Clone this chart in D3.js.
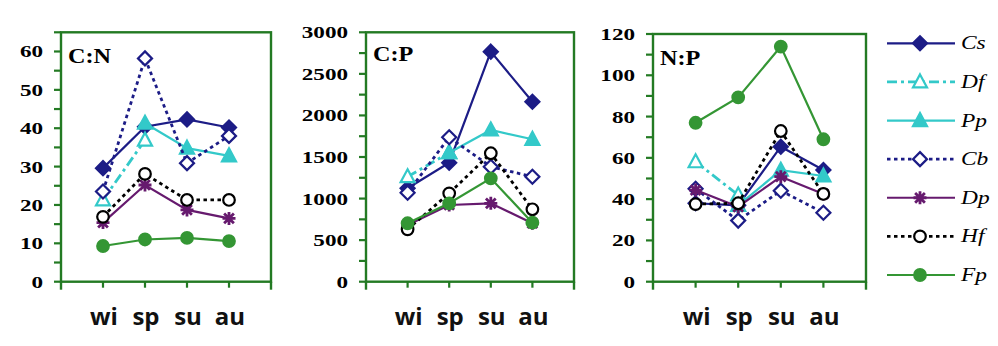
<!DOCTYPE html>
<html>
<head>
<meta charset="utf-8">
<script src="https://cdn.jsdelivr.net/npm/d3@7"></script>
<style>
  body { margin: 0; background: #fff; }
  svg { display: block; }
</style>
</head>
<body>
<div id="chart"></div>
<script>
'use strict'

// categories
const seasons = ['wi', 'sp', 'su', 'au']
const species = ['Cs', 'Df', 'Pp', 'Cb', 'Dp', 'Hf', 'Fp']

// values, one row per species (same order as species), null = no sample
const ratioCN = [
  [29.6, 40.4, 42.3, 40.2],
  [21.3, 36.9, null, null],
  [null, 41.3, 34.8, 32.8],
  [23.5, 58.2, 30.9, 38.0],
  [15.4, 25.2, 18.7, 16.5],
  [16.9, 28.1, 21.3, 21.3],
  [9.3, 11.0, 11.4, 10.6]
]
const ratioCP = [
  [1124, 1431, 2767, 2165],
  [1263, 1552, null, null],
  [null, 1552, 1825, 1713],
  [1071, 1737, 1383, 1263],
  [682, 923, 943, 703],
  [630, 1063, 1545, 871],
  [703, 943, 1244, 710]
]
const ratioNP = [
  [38.0, 37.0, 65.4, 54.1],
  [58.1, 42.0, null, null],
  [null, 37.0, 54.0, 51.2],
  [45.0, 29.6, 44.1, 33.4],
  [44.4, 36.3, 50.9, 42.5],
  [37.6, 38.0, 73.0, 42.5],
  [77.0, 89.3, 113.9, 69.0]
]

// tick labels
const ticksCN = [0, 10, 20, 30, 40, 50, 60]
const ticksCP = [0, 500, 1000, 1500, 2000, 2500, 3000]
const ticksNP = [0, 20, 40, 60, 80, 100, 120]

// Our canvas
const width = 998,
  height = 346,
  bottom = 281.7,
  frameGreen = '#237a23'

const navy = '#1c1c86',
  cyan = '#33c9c9',
  purple = '#661a6e',
  green = '#349634'

// how each series looks
const styles = {
  Cs: { color: navy, dash: null, w: 2.2, marker: 'diamond', fill: navy },
  Df: { color: cyan, dash: '10,4,3,4', w: 2.8, marker: 'triangle', fill: '#fff' },
  Pp: { color: cyan, dash: null, w: 2.2, marker: 'triangle', fill: cyan },
  Cb: { color: navy, dash: '3.5,3.5', w: 2.8, marker: 'diamond', fill: '#fff' },
  Dp: { color: purple, dash: null, w: 2.2, marker: 'star', fill: purple },
  Hf: { color: '#000', dash: '3.5,3.5', w: 2.8, marker: 'circle', fill: '#fff' },
  Fp: { color: green, dash: null, w: 2.2, marker: 'circle', fill: green }
}

const panels = [
  { title: 'C:N', data: ratioCN, ticks: ticksCN, minor: 5, max: 65, left: 61, right: 271, top: 32.3, titleY: 63 },
  { title: 'C:P', data: ratioCP, ticks: ticksCP, minor: 250, max: 3000, left: 366, right: 574, top: 32.3, titleY: 61 },
  { title: 'N:P', data: ratioNP, ticks: ticksNP, minor: 10, max: 120, left: 653, right: 866, top: 34, titleY: 65 }
]

let svg = d3.select('#chart')
  .append('svg')
  .attr('width', width)
  .attr('height', height)

// marker drawing
let drawMarker = (g, type, x, y, st) => {
  if (type === 'diamond') {
    g.append('path')
      .attr('d', `M${x},${y - 7}L${x + 7},${y}L${x},${y + 7}L${x - 7},${y}Z`)
      .attr('fill', st.fill).attr('stroke', st.color).attr('stroke-width', 2.2)
  } else if (type === 'triangle') {
    g.append('path')
      .attr('d', `M${x},${y - 7.5}L${x + 7},${y + 5.5}L${x - 7},${y + 5.5}Z`)
      .attr('fill', st.fill).attr('stroke', st.color).attr('stroke-width', 2.2)
  } else if (type === 'circle') {
    g.append('circle')
      .attr('cx', x).attr('cy', y).attr('r', 5.8)
      .attr('fill', st.fill).attr('stroke', st.color).attr('stroke-width', 2.2)
  } else if (type === 'star') {
    let r = 6.5
    let d = `M${x - r},${y}L${x + r},${y}M${x},${y - r}L${x},${y + r}` +
      `M${x - r * 0.75},${y - r * 0.75}L${x + r * 0.75},${y + r * 0.75}` +
      `M${x - r * 0.75},${y + r * 0.75}L${x + r * 0.75},${y - r * 0.75}`
    g.append('path').attr('d', d)
      .attr('stroke', st.color).attr('stroke-width', 2.8).attr('fill', 'none')
  }
}

// stretched serif text like the original
let stretchText = (g, x, y, txt, size, sx, anchor, style) => {
  return g.append('text')
    .attr('transform', `translate(${x},${y}) scale(${sx},1)`)
    .attr('text-anchor', anchor)
    .attr('font-family', 'Liberation Serif, Times New Roman, serif')
    .attr('font-size', size)
    .attr('font-weight', style === 'italic' ? 'normal' : 'bold')
    .attr('font-style', style === 'italic' ? 'italic' : 'normal')
    .attr('fill', '#000')
    .text(txt)
}

panels.forEach((p) => {
  const g = svg.append('g')

  const xScale = d3.scalePoint()
    .domain(seasons)
    .range([p.left, p.right])
    .padding(1)

  const yScale = d3.scaleLinear()
    .domain([0, p.max])
    .range([bottom, p.top])

  // frame
  g.append('rect')
    .attr('x', p.left).attr('y', p.top)
    .attr('width', p.right - p.left).attr('height', bottom - p.top)
    .attr('fill', 'none').attr('stroke', frameGreen).attr('stroke-width', 2.4)

  // side lines run a bit below the x axis
  ;[p.left, p.right].forEach((x) => {
    g.append('line')
      .attr('x1', x).attr('x2', x).attr('y1', bottom).attr('y2', bottom + 8)
      .attr('stroke', frameGreen).attr('stroke-width', 2.4)
  })

  // x ticks + labels
  seasons.forEach((s) => {
    g.append('line')
      .attr('x1', xScale(s)).attr('x2', xScale(s))
      .attr('y1', bottom).attr('y2', bottom + 6)
      .attr('stroke', frameGreen).attr('stroke-width', 2.2)
    g.append('text')
      .attr('x', xScale(s) + 1).attr('y', 325)
      .attr('text-anchor', 'middle')
      .attr('font-family', 'Open Sans, sans-serif')
      .attr('font-weight', 'bold')
      .attr('font-size', 24)
      .attr('fill', '#111')
      .text(s)
  })

  // y ticks (minor + major)
  d3.range(0, p.max + 0.001, p.minor).forEach((v) => {
    g.append('line')
      .attr('x1', p.left - 7).attr('x2', p.left)
      .attr('y1', yScale(v)).attr('y2', yScale(v))
      .attr('stroke', frameGreen).attr('stroke-width', 2.2)
  })
  p.ticks.forEach((v) => {
    stretchText(g, p.left - 18, yScale(v) + 6, v, 17, 1.36, 'end')
  })

  // panel title
  stretchText(g, p.left + 7, p.titleY, p.title, 22, 1.1, 'start')

  // series
  const line = d3.line()
    .defined((d) => d[1] != null)
    .x((d) => xScale(d[0]))
    .y((d) => yScale(d[1]))

  species.forEach((sp, i) => {
    const st = styles[sp]
    const pts = seasons.map((s, j) => [s, p.data[i][j]])
    g.append('path')
      .datum(pts)
      .attr('d', line)
      .attr('fill', 'none')
      .attr('stroke', st.color)
      .attr('stroke-width', st.w)
      .attr('stroke-dasharray', st.dash)
    pts.filter((d) => d[1] != null).forEach((d) => {
      drawMarker(g, st.marker, xScale(d[0]), yScale(d[1]), st)
    })
  })
})

// legend
const legendY = d3.scalePoint().domain(species).range([43.3, 275])
const lg = svg.append('g')
species.forEach((sp) => {
  const st = styles[sp]
  const y = legendY(sp)
  lg.append('line')
    .attr('x1', 887).attr('x2', 955).attr('y1', y).attr('y2', y)
    .attr('stroke', st.color).attr('stroke-width', st.w)
    .attr('stroke-dasharray', st.dash)
  drawMarker(lg, st.marker, 920, y, st)
  stretchText(lg, 961, y + 6, sp, 18, 1.3, 'start', 'italic')
})
</script>
</body>
</html>
